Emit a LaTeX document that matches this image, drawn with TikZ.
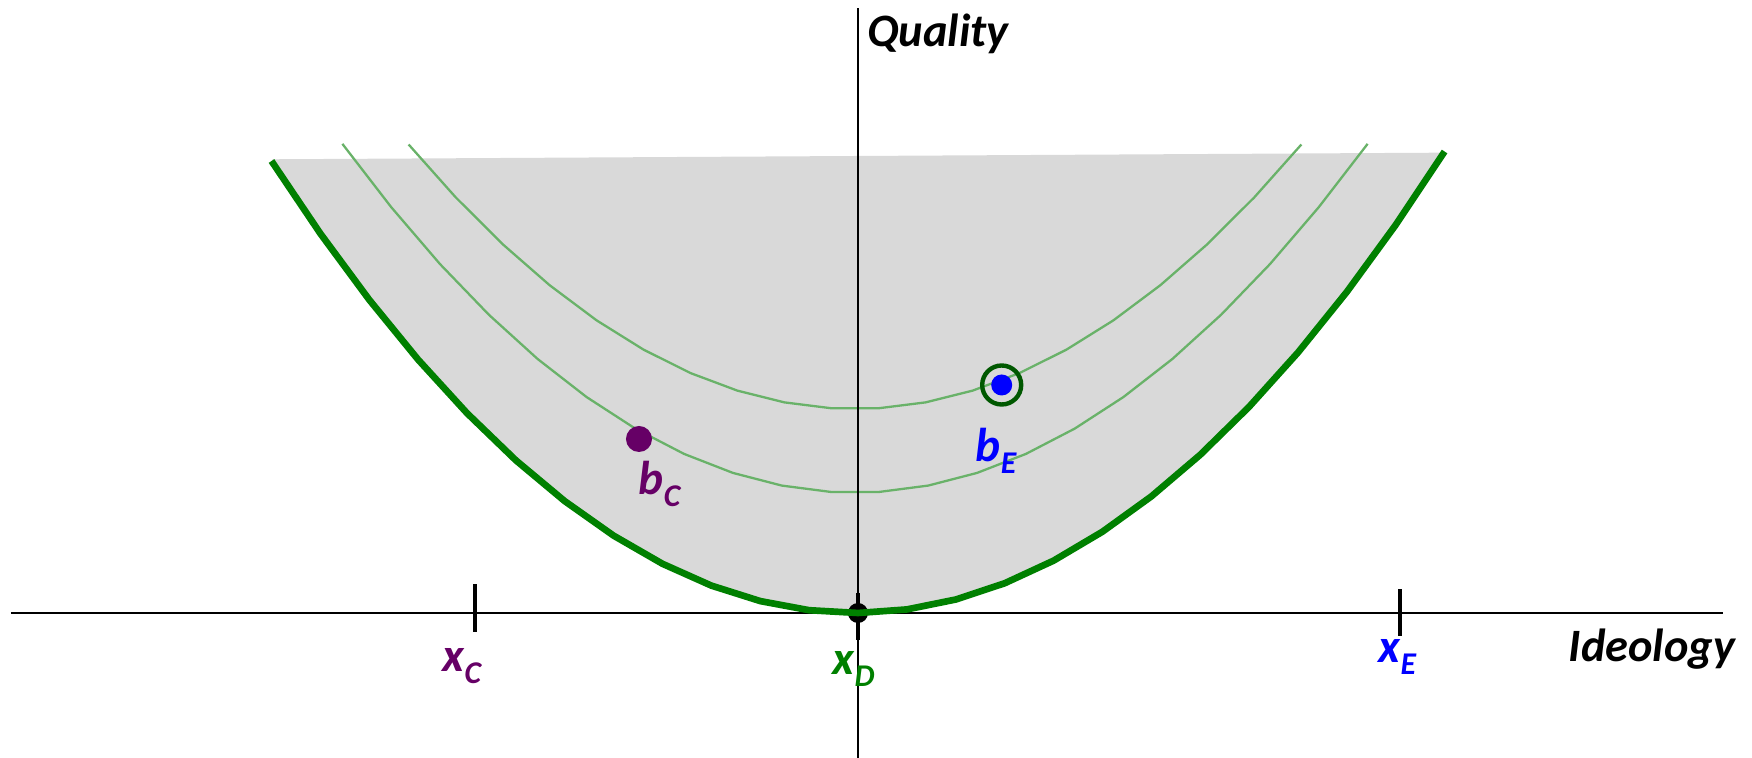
\documentclass[tikz,border=0pt]{standalone}
\usepackage{fontspec}
\setmainfont{Carlito}
\usetikzlibrary{calc}
\definecolor{maingreen}{RGB}{0,128,0}
\definecolor{curvegreen}{RGB}{105,178,105}
\definecolor{ringgreen}{RGB}{0,88,0}
\definecolor{cpurple}{RGB}{102,0,102}
\definecolor{regiongray}{RGB}{217,217,217}
\newcommand{\lbl}[2]{{\fontsize{13.5}{14}\selectfont #1}\raisebox{-3.4pt}{\fontsize{9}{9}\selectfont #2}}

\begin{document}
\begin{tikzpicture}[x=0.01cm,y=0.01cm,
  axisline/.style={black,line width=0.6pt},
  tick/.style={black,line width=1.15pt},
  indiff/.style={curvegreen,line width=0.65pt},
  axlabel/.style={font=\bfseries\itshape\fontsize{13.2}{14}\selectfont,inner sep=0pt,anchor=base},
  ptlabel/.style={font=\bfseries\itshape,inner sep=0pt,anchor=base west}]
  \useasboundingbox (-858,-145) rectangle (894,613);
  \pgfmathsetmacro{\pa}{0.00132}
  % shaded set above the thick curve
  \fill[regiongray,domain=-586.5:586.6,samples=25,variable=\t]
    plot (\t,{\pa*(\t+3)*(\t+3)}) -- (582,460.3) -- (-585.3,453.7) -- cycle;
  % indifference curves
  \draw[indiff,domain=-515.6:509.6,samples=22,variable=\t] plot (\t,{120.3+\pa*(\t+3)*(\t+3)});
  \draw[indiff,domain=-449.4:443.4,samples=20,variable=\t] plot (\t,{204+\pa*(\t+3)*(\t+3)});
  % axes
  \draw[axisline] (-847,0) -- (865,0);
  \draw[axisline] (0,-145) -- (0,605);
  \node[axlabel] (qual) at (80,566) {Quality};
  \node[axlabel] (ideo) at (794,-49) {Ideology};
  % ticks
  \draw[tick] (-383,-19) -- (-383,29);
  \draw[tick] (542,-23) -- (542,24);
  \draw[tick] (0,-27) -- (0,20);
  \fill[black] (0,0) circle (10);
  % thick curve
  \draw[maingreen,line width=1.9pt,domain=-586.5:586.6,samples=25,variable=\t] plot (\t,{\pa*(\t+3)*(\t+3)});
  \node[ptlabel,text=cpurple] (xc) at (-416,-59) {\lbl{x}{C}};
  \node[ptlabel,text=maingreen] (xd) at (-26,-62) {\lbl{x}{D}};
  \node[ptlabel,text=blue] (xe) at (520,-50) {\lbl{x}{E}};
  % bundles
  \node[circle,fill=cpurple,inner sep=0pt,minimum size=0.26cm] (bc) at (-219,174) {};
  \node[ptlabel,text=cpurple] (bclbl) at (-220,118) {\lbl{b}{C}};
  \node[circle,fill=blue,inner sep=0pt,minimum size=0.21cm] (be) at (143.7,228) {};
  \draw[ringgreen,line width=1.25pt] (be) circle (19.5);
  \node[ptlabel,text=blue] (belbl) at (117,151) {\lbl{b}{E}};
\end{tikzpicture}
\end{document}
